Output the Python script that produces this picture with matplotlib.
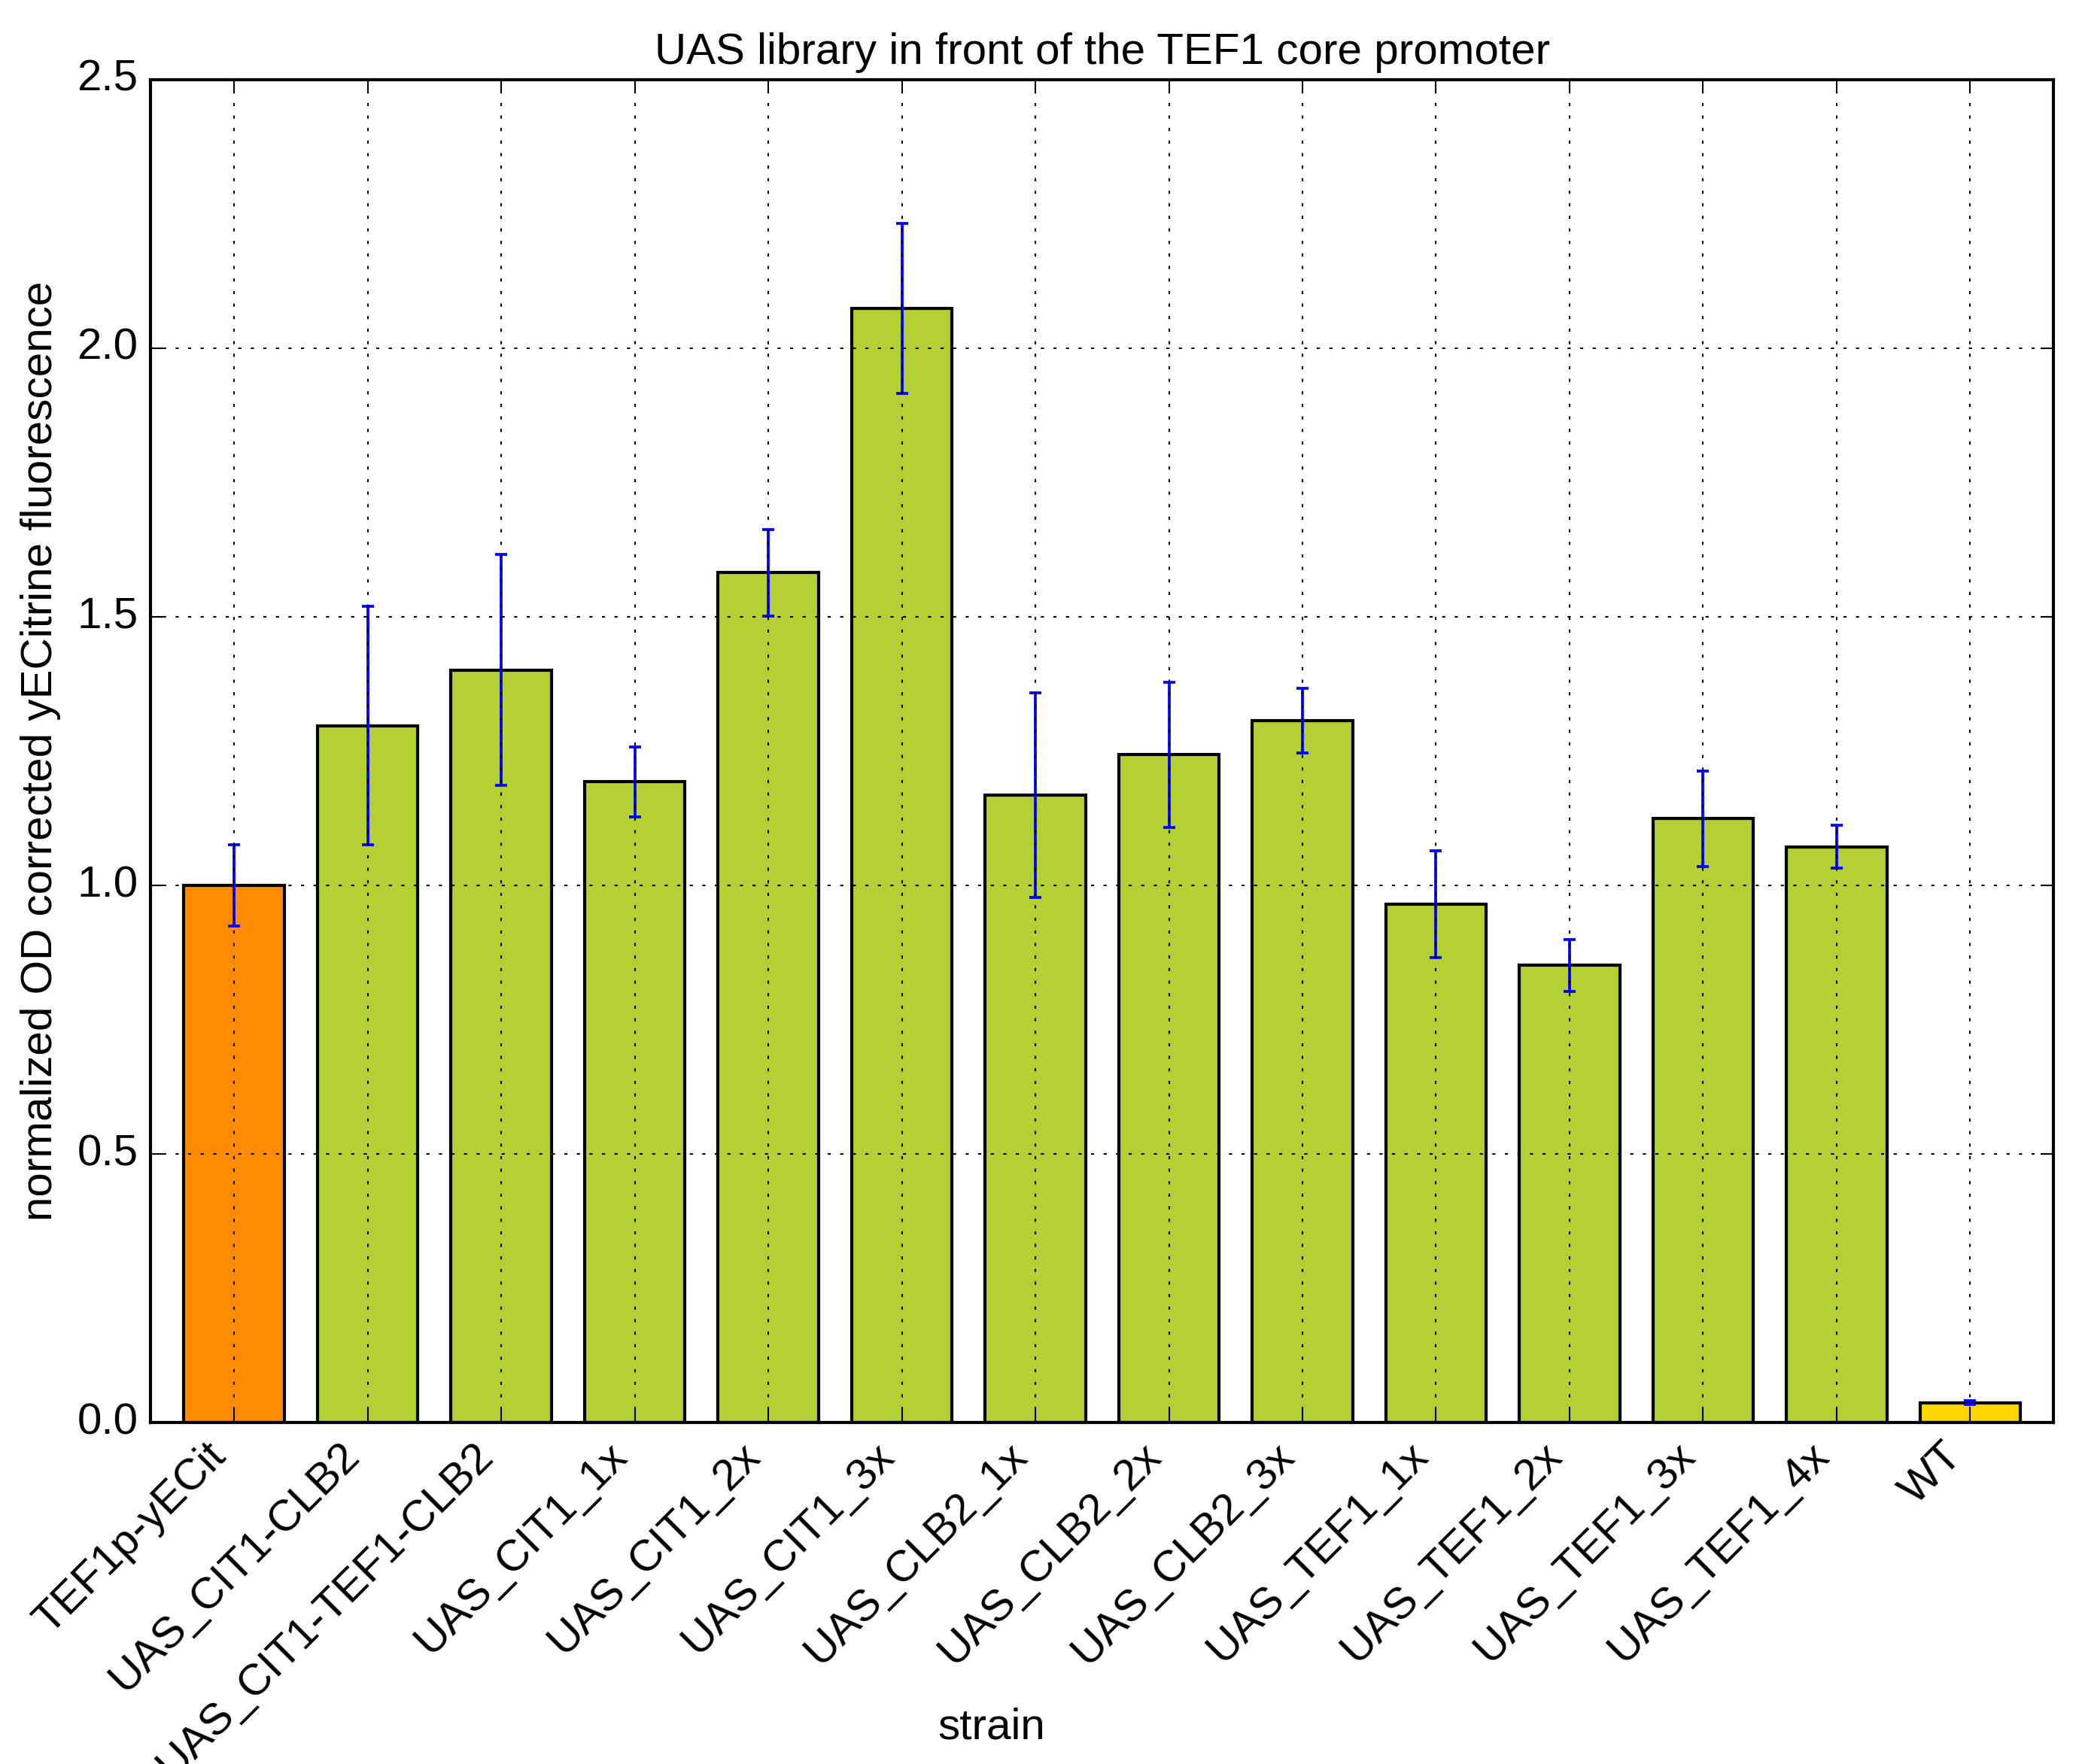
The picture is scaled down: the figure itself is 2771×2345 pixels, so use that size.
import numpy as np
import matplotlib
matplotlib.use("Agg")
import matplotlib.pyplot as plt

strains = ["TEF1p-yECit", "UAS_CIT1-CLB2", "UAS_CIT1-TEF1-CLB2", "UAS_CIT1_1x",
           "UAS_CIT1_2x", "UAS_CIT1_3x", "UAS_CLB2_1x", "UAS_CLB2_2x",
           "UAS_CLB2_3x", "UAS_TEF1_1x", "UAS_TEF1_2x", "UAS_TEF1_3x",
           "UAS_TEF1_4x", "WT"]
fluo = [1.0, 1.297, 1.401, 1.193, 1.582, 2.074, 1.168, 1.243,
        1.307, 0.965, 0.851, 1.124, 1.072, 0.037]
err = [0.076, 0.222, 0.215, 0.065, 0.080, 0.158, 0.190, 0.135,
       0.060, 0.100, 0.048, 0.089, 0.040, 0.003]
colors = ["#ff8c00"] + ["#b3d035"] * 12 + ["#ffd700"]

plt.style.use("classic")
plt.rcParams["font.family"] = ["Liberation Sans", "DejaVu Sans"]
plt.rcParams["font.size"] = 14

fig = plt.figure(figsize=(2771 / 300, 2345 / 300), dpi=300, facecolor="white")
ax = fig.add_axes([0.0722, 0.1936, 0.9128, 0.7612])

x = np.arange(len(strains))
ax.bar(x, fluo, width=0.75, color=colors, edgecolor="black", linewidth=1.0,
       yerr=err, ecolor="blue", capsize=2, align="center",
       error_kw={"elinewidth": 0.9, "capthick": 0.9})

ax.set_xlim(-0.625, len(strains) - 1 + 0.625)
ax.set_ylim(0, 2.5)
ax.set_xticks(x)
ax.set_xticklabels(strains, rotation=45, ha="right", fontsize=14)
ax.set_yticks(np.arange(0, 2.51, 0.5))
ax.tick_params(labelsize=14)
ax.grid(True)
ax.set_axisbelow(False)

ax.set_title("UAS library in front of the TEF1 core promoter", fontsize=14)
ax.set_xlabel("strain", fontsize=14)
# label sits left of the axes centre in the original
ax.xaxis.set_label_coords(0.442, -0.212)
ax.set_ylabel("normalized OD corrected yECitrine fluorescence", fontsize=14)

fig.savefig("out.png", dpi=300, facecolor="white")
